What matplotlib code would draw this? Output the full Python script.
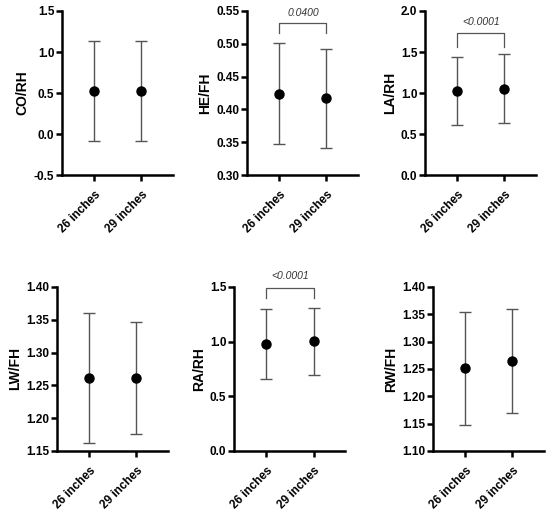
import numpy as np
import matplotlib
matplotlib.use("Agg")
import matplotlib.pyplot as plt
from matplotlib.ticker import FormatStrFormatter, MultipleLocator

plt.rcParams['font.family'] = ['Liberation Sans', 'DejaVu Sans']
plt.rcParams['font.weight'] = 'bold'
plt.rcParams['axes.unicode_minus'] = False

# groups shared by all panels
groups = ["26 inches", "29 inches"]

# ratio names, means and error bar ends (lower, upper)
labels = ["CO/RH", "HE/FH", "LA/RH", "LW/FH", "RA/RH", "RW/FH"]
means = [[0.525, 0.525], [0.423, 0.417], [1.028, 1.052],
         [1.262, 1.261], [0.979, 1.006], [1.252, 1.265]]
lower = [[-0.085, -0.09], [0.347, 0.341], [0.61, 0.63],
         [1.162, 1.1765], [0.659, 0.698], [1.147, 1.169]]
upper = [[1.135, 1.135], [0.5005, 0.4925], [1.435, 1.48],
         [1.361, 1.346], [1.299, 1.311], [1.354, 1.360]]

# axis ranges, tick steps and decimals
ylims = [(-0.5, 1.5), (0.30, 0.55), (0.0, 2.0), (1.15, 1.40), (0.0, 1.5), (1.10, 1.40)]
ysteps = [0.5, 0.05, 0.5, 0.05, 0.5, 0.05]
ydec = ["%.1f", "%.2f", "%.1f", "%.2f", "%.1f", "%.2f"]

# significance brackets: panel -> (p text, bracket y, drop y, text y)
pvals = {1: ("0.0400", 0.531, 0.516, 0.547),
         2: ("<0.0001", 1.73, 1.56, 1.86),
         4: ("<0.0001", 1.49, 1.40, 1.60)}

fig = plt.figure(figsize=(5.5, 5.14), dpi=100)

# axes boxes in figure fractions
lefts = [0.1127, 0.449, 0.7727, 0.1036, 0.4255, 0.787]
bottoms = [0.6595, 0.6595, 0.6595, 0.1226, 0.1226, 0.1226]
w, h = 0.2018, 0.3191

err_col = "#555555"
for i in range(6):
    ax = fig.add_axes([lefts[i], bottoms[i], w, h])
    x = np.arange(len(groups))
    m = np.array(means[i])
    lo = m - np.array(lower[i])
    hi = np.array(upper[i]) - m
    ax.errorbar(x, m, yerr=[lo, hi], fmt='none', ecolor=err_col,
                elinewidth=1.0, capsize=4.5, capthick=1.0, zorder=2)
    ax.plot(x, m, 'o', color='black', markersize=6.5, zorder=3)

    ax.set_xlim(-0.69, 1.67)
    ax.set_ylim(*ylims[i])
    ax.yaxis.set_major_locator(MultipleLocator(ysteps[i]))
    ax.yaxis.set_major_formatter(FormatStrFormatter(ydec[i]))
    ax.set_xticks(x)
    ax.set_xticklabels(groups, rotation=45, ha='right', rotation_mode='anchor',
                       fontsize=8.5, fontweight='bold')
    for t in ax.get_yticklabels():
        t.set_fontsize(8.5)
        t.set_fontweight('bold')
    ax.set_ylabel(labels[i], fontsize=10, fontweight='bold', labelpad=3)

    for s in ['top', 'right']:
        ax.spines[s].set_visible(False)
    for s in ['left', 'bottom']:
        ax.spines[s].set_linewidth(1.8)
    ax.tick_params(width=1.8, length=4)
    ax.tick_params(axis='y', pad=1.5)
    ax.tick_params(axis='x', pad=6)

    if i in pvals:
        txt, yb, yd, yt = pvals[i]
        ax.plot([0, 0, 1, 1], [yd, yb, yb, yd], color=err_col, lw=0.9, clip_on=False)
        ax.text(0.5, yt, txt, ha='center', va='center', fontsize=7.5,
                style='italic', fontweight='normal', color='#333333', clip_on=False)

fig.savefig("out.png", dpi=100)
